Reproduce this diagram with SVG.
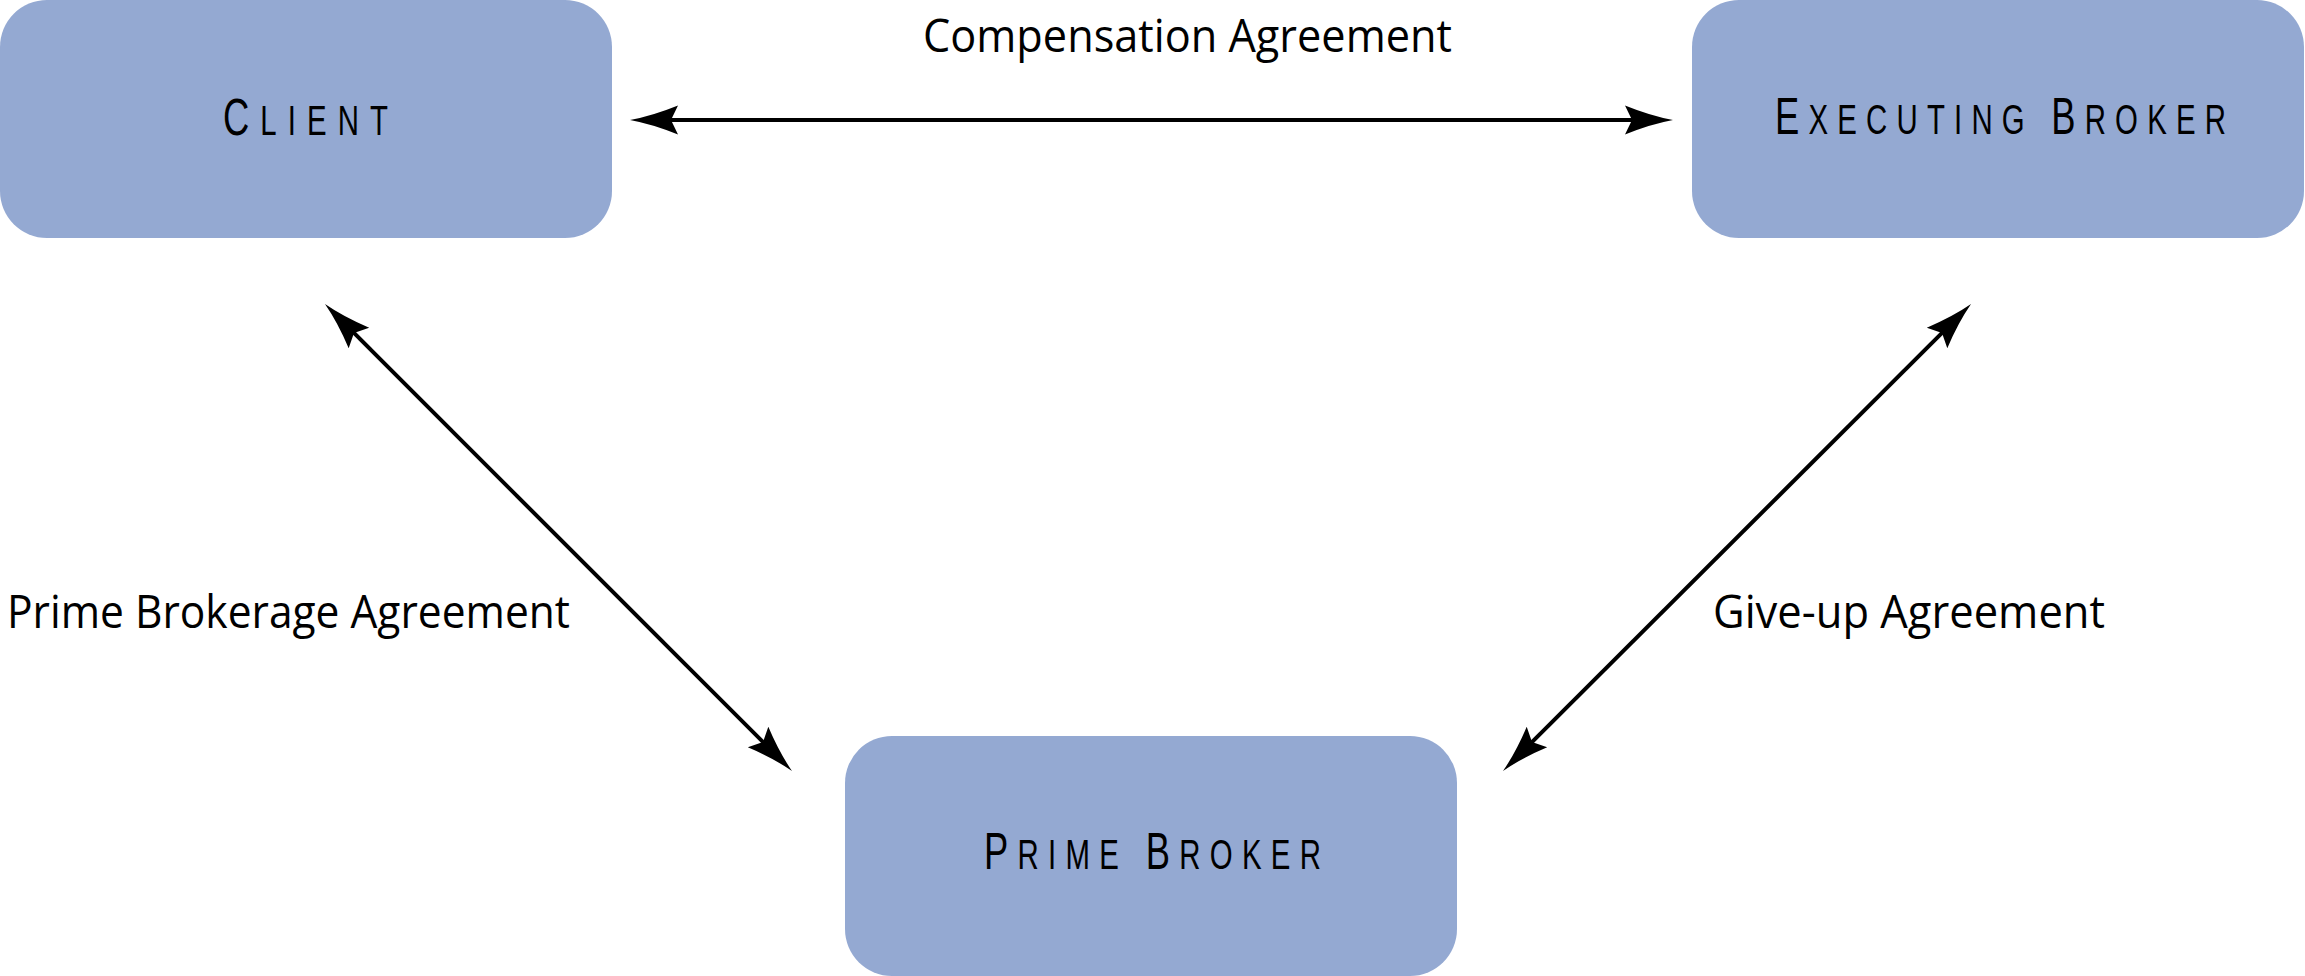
<svg xmlns="http://www.w3.org/2000/svg" width="2305" height="976" viewBox="0 0 2305 976">
  <style>
    .box { fill: #94a9d2; }
    .node-label { font-family: "Liberation Sans", "DejaVu Sans", sans-serif; fill: #000; }
    .cap { font-size: 52px; }
    .sc { font-size: 42px; }
    .edge-label { font-family: "Open Sans", "Liberation Sans", sans-serif; font-size: 46px; fill: #000; }
    .conn { stroke: #000; stroke-width: 4; fill: none; marker-start: url(#head); marker-end: url(#head); }
  </style>
  <defs>
    <marker id="head" markerUnits="userSpaceOnUse" viewBox="-50 -16 52 32" refX="-30" refY="0" markerWidth="52" markerHeight="32" orient="auto-start-reverse">
      <path d="M0,0 Q-22,-4 -48,-14.5 L-41,0 L-48,14.5 Q-22,4 0,0 Z" fill="#000"/>
    </marker>
  </defs>
  <rect width="2305" height="976" fill="#fff"/>

  <g id="client">
    <rect class="box" x="0" y="0" width="612" height="238" rx="47" ry="47"/>
    <text class="node-label" transform="translate(223,135) scale(0.7,1)" x="0" y="0" textLength="235.7" lengthAdjust="spacing"><tspan class="cap">C</tspan><tspan class="sc">LIENT</tspan></text>
  </g>

  <g id="executing-broker">
    <rect class="box" x="1692" y="0" width="612" height="238" rx="47" ry="47"/>
    <text class="node-label" transform="translate(1775,134) scale(0.7,1)" x="0" y="0" textLength="644.3" lengthAdjust="spacing"><tspan class="cap">E</tspan><tspan class="sc">XECUTING </tspan><tspan class="cap">B</tspan><tspan class="sc">ROKER</tspan></text>
  </g>

  <g id="prime-broker">
    <rect class="box" x="845" y="736" width="612" height="240" rx="47" ry="47"/>
    <text class="node-label" transform="translate(984,869) scale(0.7,1)" x="0" y="0" textLength="481.4" lengthAdjust="spacing"><tspan class="cap">P</tspan><tspan class="sc">RIME </tspan><tspan class="cap">B</tspan><tspan class="sc">ROKER</tspan></text>
  </g>

  <g id="connectors">
    <line class="conn" x1="660" y1="120" x2="1643" y2="120"/>
    <line class="conn" x1="346.2" y1="325.2" x2="770.8" y2="749.8"/>
    <line class="conn" x1="1949.8" y1="325.2" x2="1524.2" y2="749.8"/>
  </g>

  <g id="labels">
    <text class="edge-label" x="923" y="52" textLength="529" lengthAdjust="spacingAndGlyphs">Compensation Agreement</text>
    <text class="edge-label" x="7" y="628" textLength="563" lengthAdjust="spacingAndGlyphs">Prime Brokerage Agreement</text>
    <text class="edge-label" x="1713" y="628" textLength="392" lengthAdjust="spacingAndGlyphs">Give-up Agreement</text>
  </g>
</svg>
